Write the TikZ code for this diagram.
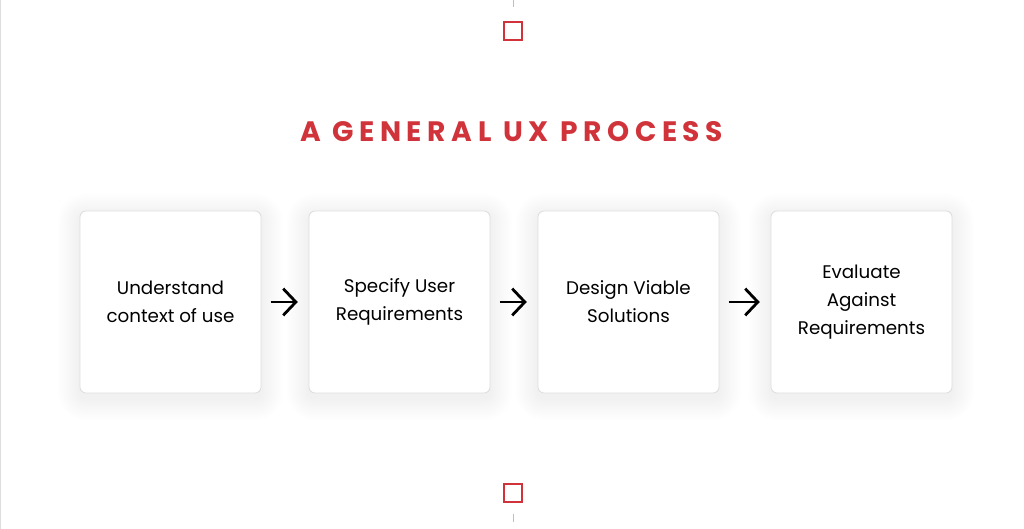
\documentclass[tikz,border=0pt]{standalone}
\usepackage{fontspec}
\setmainfont{Poppins}
\newfontfamily\titlefont[LetterSpace=20]{Poppins}
\usetikzlibrary{arrows.meta}
\definecolor{uxred}{RGB}{208,52,58}
\definecolor{boxline}{RGB}{222,222,222}
\begin{document}
\begin{tikzpicture}
		\tikzstyle{stepbox} = [rectangle,draw=boxline,line width=0.6pt,fill=white,rounded corners=0.15cm,minimum width=4.525cm,minimum height=4.55cm,align=center,font=\fontsize{13}{19.9}\selectfont]
		\tikzstyle{marker} = [rectangle,draw=uxred,line width=1.4pt,minimum size=0.45cm,inner sep=0pt]
		\tikzstyle{flow} = [line width=2pt,-{Straight Barb[length=9pt,width=19pt,line width=2pt]},shorten <=0.23cm,shorten >=0.27cm]
		\useasboundingbox[fill=white] (0,0) rectangle (25.6,-13.225);
		\draw[boxline,line width=0.8pt] (0.02,0) -- (0.02,-13.225);

		% soft shadows under the boxes
		\foreach \x in {4.2625,9.9875,15.7125,21.5375}
			\foreach \r in {0.04,0.08,...,0.6}
				\fill[black,opacity=0.0028,rounded corners=0.15cm+\r cm] (\x-2.2625-\r,-5.275-0.12+\r) rectangle (\x+2.2625+\r,-9.825-0.12-\r);

		% markers top and bottom
		\node[marker] (topmark) at (12.825,-0.775) {};
		\node[marker] (botmark) at (12.825,-12.325) {};
		\coordinate (toptick) at (12.825,-0.18);
		\coordinate (bottick) at (12.825,-12.85);
		\draw[gray!50,line width=0.6pt] (12.825,0) -- (toptick);
		\draw[gray!50,line width=0.6pt] (bottick) -- (12.825,-13.05);

		\node[font=\titlefont\bfseries\fontsize{20}{24}\selectfont,text=uxred] (title) at (12.79,-3.28) {A GENERAL UX PROCESS};

		\node[stepbox] (context) at (4.2625,-7.55) {Understand\\context of use};
		\node[stepbox] (require) at (9.9875,-7.55) {Specify User\\Requirements};
		\node[stepbox] (design) at (15.7125,-7.55) {Design Viable\\Solutions};
		\node[stepbox] (evaluate) at (21.5375,-7.55) {Evaluate\\Against\\Requirements};

		\draw[flow] (context) -- (require);
		\draw[flow] (require) -- (design);
		\draw[flow] (design) -- (evaluate);
	\end{tikzpicture}
\end{document}
